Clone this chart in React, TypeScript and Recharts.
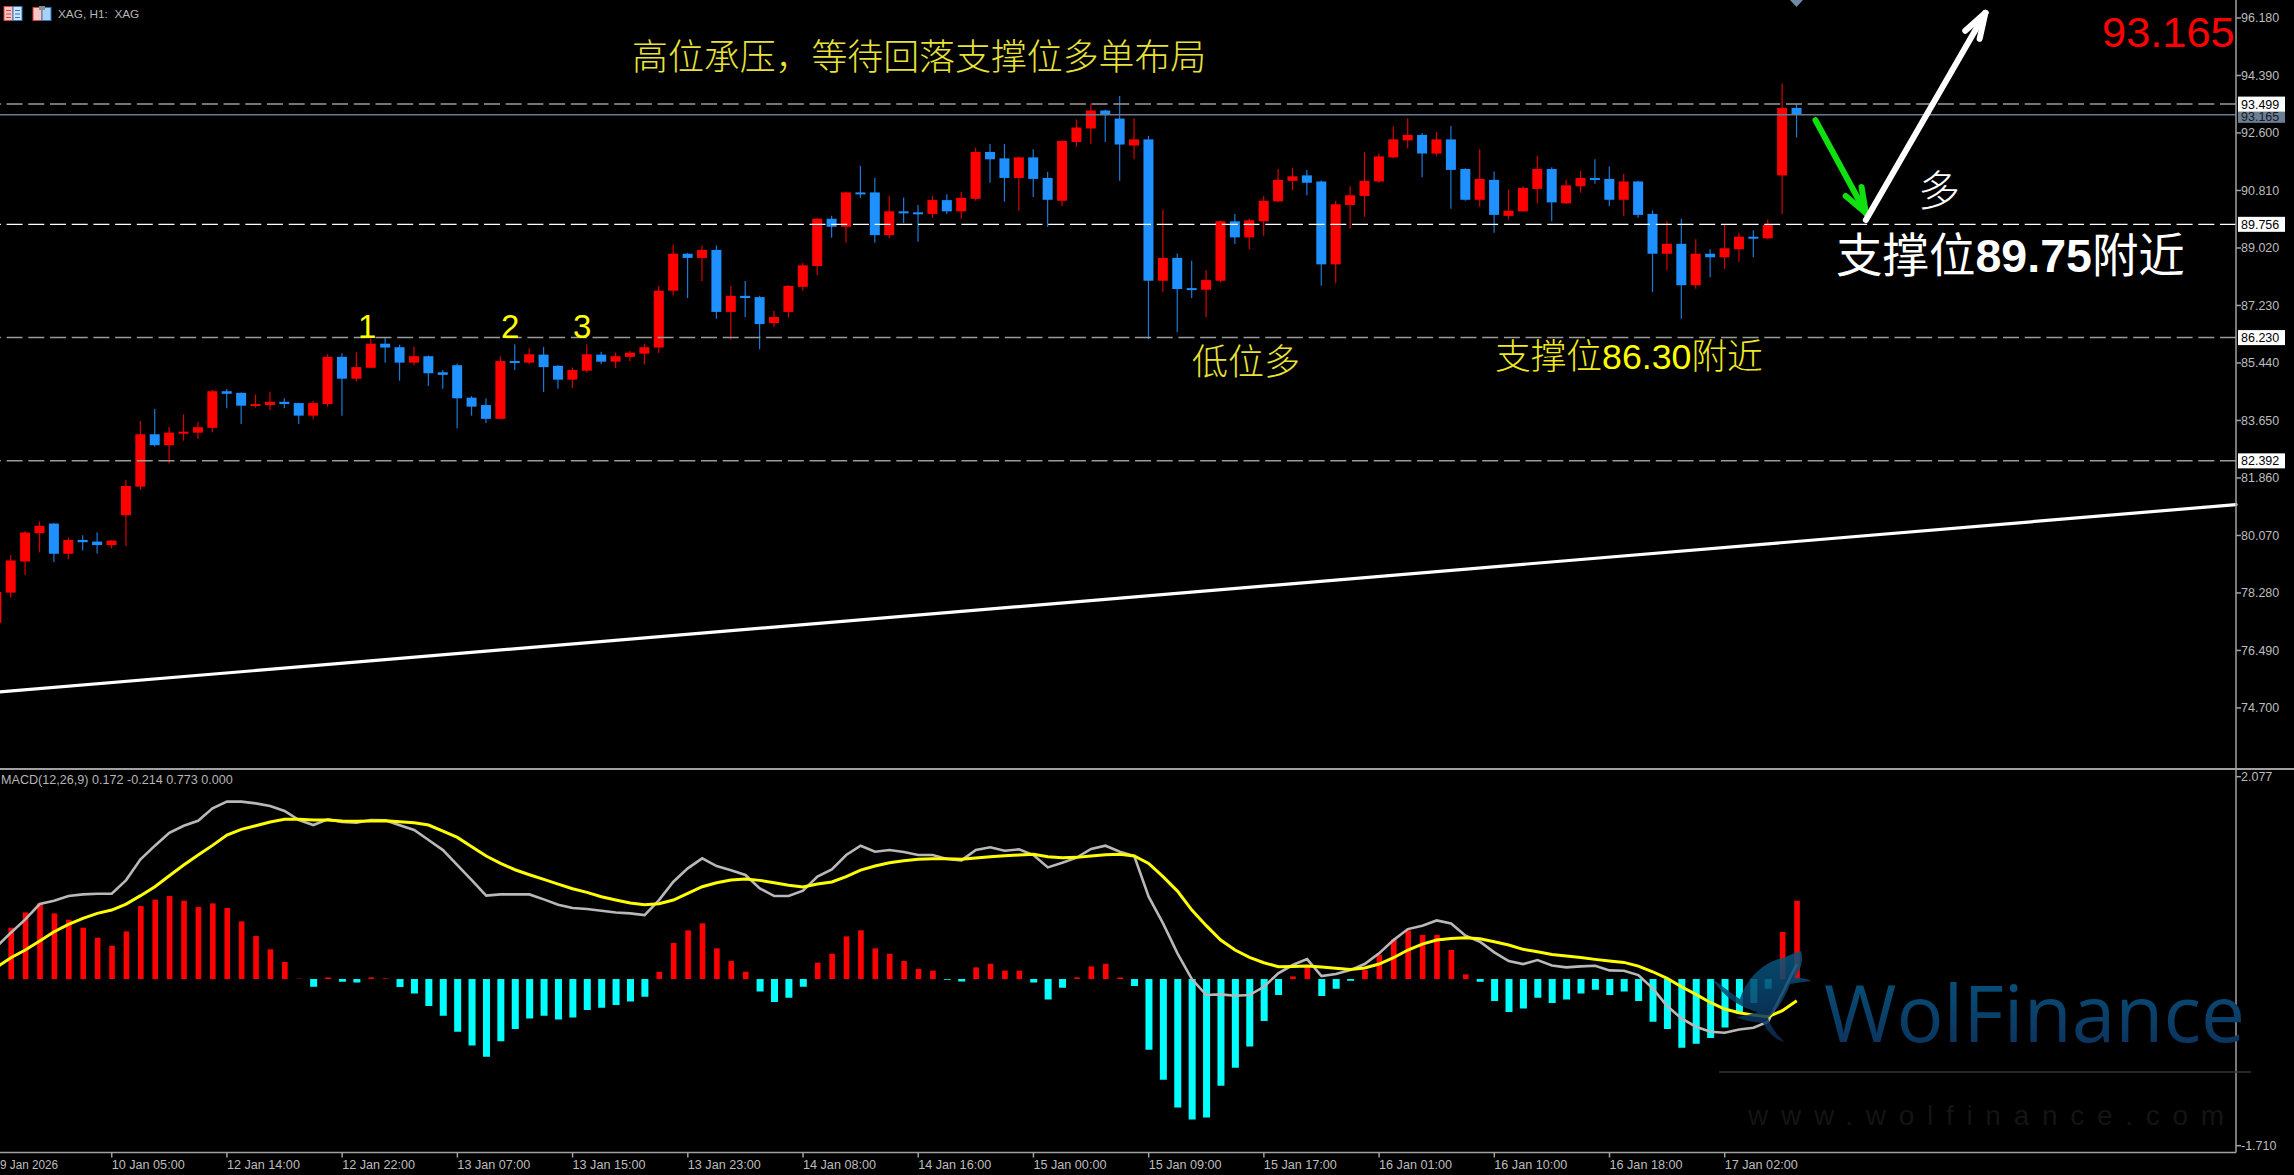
import { Bar, ComposedChart, Line, ReferenceLine, XAxis, YAxis } from "recharts";

// first entry is the bar cut off by the left edge of the window
const opens = [77.35,78.29,79.26,80.14,80.44,79.50,79.93,79.88,79.77,80.70,81.59,83.22,82.88,83.24,83.27,83.42,84.56,84.51,84.11,84.13,84.23,84.19,83.80,84.16,85.63,84.95,85.29,86.04,85.93,85.45,85.65,85.15,85.37,84.36,84.13,83.70,85.50,85.45,85.70,85.35,84.92,85.20,85.70,85.48,85.63,85.73,85.92,87.69,88.84,88.71,88.96,87.03,87.53,87.49,86.68,87.03,87.81,88.46,89.93,89.68,90.75,90.75,89.42,90.16,90.13,90.08,90.51,90.16,90.55,92.01,91.81,91.20,91.84,91.20,90.49,92.32,92.74,93.30,93.05,92.21,92.40,88.00,88.71,87.77,87.72,88.00,89.85,89.35,89.85,90.47,91.11,91.28,91.09,88.51,90.36,90.64,91.09,91.84,92.37,92.54,91.96,92.40,91.48,90.52,91.14,90.02,90.16,90.86,91.48,90.41,90.94,91.20,91.17,90.52,91.09,90.08,88.84,89.15,87.86,88.84,88.73,88.98,89.37,89.32,91.28,93.38];
const highs = [78.40,79.46,80.21,80.50,80.46,80.01,80.08,80.17,79.93,81.80,83.63,84.01,83.45,83.84,83.60,84.60,84.63,84.52,84.46,84.54,84.34,84.20,84.26,85.71,85.74,85.77,86.21,86.24,86.01,85.95,85.67,85.22,85.42,84.41,84.34,85.65,86.02,85.90,85.94,85.38,85.30,86.02,85.79,85.76,85.81,86.03,87.84,89.13,88.87,89.10,89.10,87.84,87.99,87.53,87.06,87.86,88.56,89.96,90.02,90.77,91.57,91.20,90.64,90.59,90.36,90.64,90.69,90.77,92.14,92.26,92.26,91.87,92.09,91.39,92.37,93.02,93.52,93.32,93.75,93.05,92.51,90.21,88.85,88.62,88.33,89.88,90.08,89.93,90.64,91.48,91.51,91.45,91.12,90.49,90.94,92.01,91.96,92.80,93.05,92.60,92.63,92.82,91.50,92.09,91.40,90.84,90.94,91.89,91.53,91.14,91.42,91.78,91.56,91.33,91.11,90.19,89.85,89.93,89.29,88.98,89.74,89.49,89.57,89.91,94.14,93.50];
const lows = [77.20,78.14,78.84,79.54,79.24,79.33,79.60,79.51,79.67,79.74,81.49,82.84,82.31,83.02,83.07,83.28,84.03,83.54,84.05,83.97,84.03,83.54,83.69,84.08,83.80,84.86,85.29,85.45,84.89,85.37,84.72,84.64,83.41,83.80,83.57,83.70,85.22,85.40,84.54,84.64,84.66,85.14,85.40,85.28,85.50,85.39,85.75,87.54,87.46,87.99,86.82,86.16,86.87,85.87,86.57,86.85,87.69,88.18,89.34,89.18,90.58,89.18,89.32,89.80,89.21,89.96,90.08,89.93,90.49,91.05,90.46,90.18,90.61,89.68,90.33,92.17,92.26,92.32,91.11,91.78,86.18,87.64,86.40,87.46,86.87,87.95,89.14,88.98,89.40,90.44,90.82,90.66,87.84,87.92,89.63,89.99,91.05,91.81,92.12,91.22,91.89,90.24,90.49,90.30,89.49,89.91,90.15,90.41,89.85,90.38,90.74,91.02,90.33,90.02,89.96,87.64,88.33,86.82,87.75,88.11,88.37,88.58,88.73,89.29,90.08,92.46];
const closes = [78.31,79.29,80.16,80.37,79.50,79.93,79.86,79.77,79.91,81.61,83.22,82.88,83.27,83.30,83.44,84.56,84.48,84.11,84.16,84.23,84.16,83.80,84.19,85.63,84.95,85.31,86.04,85.92,85.45,85.65,85.12,85.07,84.34,84.08,83.70,85.50,85.46,85.71,85.31,84.92,85.22,85.71,85.48,85.65,85.76,85.93,87.69,88.84,88.71,88.96,87.03,87.53,87.46,86.65,86.87,87.84,88.48,89.93,89.68,90.75,90.70,89.42,90.16,90.11,90.08,90.51,90.16,90.58,92.01,91.78,91.20,91.84,91.17,90.52,92.35,92.77,93.30,93.16,92.24,92.40,88.00,88.71,87.74,87.72,88.02,89.85,89.35,89.88,90.49,91.14,91.25,91.05,88.51,90.38,90.66,91.11,91.87,92.40,92.54,91.96,92.40,91.45,90.52,91.17,90.05,90.18,90.89,91.48,90.44,90.97,91.20,91.14,90.52,91.09,90.05,88.84,89.15,87.86,88.84,88.73,89.01,89.37,89.32,89.74,93.38,93.16];

const histogram = [null,0.527,0.684,0.777,0.674,0.609,0.527,0.424,0.342,0.489,0.749,0.815,0.852,0.804,0.739,0.777,0.729,0.592,0.441,0.305,0.175,0.004,-0.079,0.017,-0.027,-0.034,0.017,0.007,-0.082,-0.147,-0.277,-0.376,-0.541,-0.681,-0.797,-0.637,-0.513,-0.404,-0.376,-0.414,-0.394,-0.318,-0.294,-0.267,-0.229,-0.181,0.075,0.370,0.500,0.572,0.315,0.185,0.075,-0.127,-0.236,-0.192,-0.079,0.168,0.260,0.438,0.500,0.315,0.260,0.185,0.103,0.086,-0.007,-0.024,0.120,0.157,0.086,0.086,-0.034,-0.209,-0.089,0.017,0.130,0.157,0.017,-0.072,-0.726,-1.034,-1.318,-1.441,-1.420,-1.095,-0.910,-0.691,-0.431,-0.164,0.027,0.130,-0.175,-0.099,-0.017,0.092,0.250,0.407,0.500,0.452,0.452,0.298,0.048,-0.027,-0.226,-0.339,-0.301,-0.192,-0.246,-0.209,-0.147,-0.110,-0.164,-0.127,-0.226,-0.438,-0.513,-0.705,-0.664,-0.606,-0.496,-0.356,-0.246,-0.099,0.483,0.804];
const macdLine = [0.332,0.476,0.613,0.770,0.804,0.852,0.869,0.876,0.876,1.016,1.229,1.369,1.502,1.574,1.625,1.752,1.821,1.821,1.803,1.776,1.725,1.632,1.581,1.639,1.612,1.605,1.632,1.629,1.578,1.530,1.427,1.324,1.170,1.016,0.856,0.869,0.869,0.869,0.818,0.763,0.729,0.719,0.702,0.684,0.674,0.657,0.811,0.999,1.136,1.239,1.160,1.116,1.068,0.931,0.852,0.852,0.907,1.051,1.126,1.273,1.369,1.307,1.324,1.304,1.273,1.273,1.232,1.218,1.324,1.352,1.317,1.331,1.273,1.146,1.194,1.246,1.335,1.369,1.307,1.263,0.845,0.571,0.264,0,-0.164,-0.157,-0.171,-0.164,-0.079,0.058,0.144,0.205,0.031,0.051,0.092,0.154,0.264,0.400,0.513,0.548,0.602,0.571,0.445,0.383,0.274,0.185,0.154,0.195,0.140,0.120,0.130,0.137,0.089,0.086,0.041,-0.096,-0.277,-0.404,-0.489,-0.541,-0.551,-0.517,-0.500,-0.438,-0.147,0.154];
const signalLine = [0.120,0.219,0.298,0.390,0.486,0.561,0.623,0.674,0.708,0.770,0.856,0.948,1.061,1.170,1.273,1.372,1.478,1.537,1.574,1.612,1.639,1.639,1.632,1.632,1.622,1.619,1.622,1.626,1.615,1.605,1.581,1.519,1.454,1.359,1.263,1.187,1.122,1.071,1.023,0.975,0.927,0.890,0.845,0.811,0.780,0.763,0.773,0.811,0.879,0.948,0.989,1.016,1.027,1.013,0.989,0.962,0.945,0.975,0.996,1.051,1.119,1.160,1.194,1.215,1.229,1.235,1.235,1.229,1.242,1.256,1.266,1.273,1.280,1.256,1.246,1.249,1.263,1.276,1.280,1.263,1.187,1.051,0.903,0.708,0.548,0.400,0.298,0.222,0.168,0.127,0.130,0.133,0.123,0.110,0.099,0.113,0.154,0.219,0.298,0.359,0.400,0.417,0.424,0.414,0.383,0.349,0.305,0.281,0.253,0.236,0.222,0.202,0.185,0.171,0.133,0.075,0.007,-0.079,-0.157,-0.240,-0.308,-0.346,-0.370,-0.387,-0.325,-0.222];

const priceTicks = [96.18,94.39,92.6,90.81,89.02,87.23,85.44,83.65,81.86,80.07,78.28,76.49,74.7];
const macdTicks = [2.077,-1.71];
const timeTickBars = [-1,7,15,23,31,39,47,55,63,71,79,87,95,103,111,119];
const timeTickLabels = ["9 Jan 2026","10 Jan 05:00","12 Jan 14:00","12 Jan 22:00","13 Jan 07:00","13 Jan 15:00","13 Jan 23:00","14 Jan 08:00","14 Jan 16:00","15 Jan 00:00","15 Jan 09:00","15 Jan 17:00","16 Jan 01:00","16 Jan 10:00","16 Jan 18:00","17 Jan 02:00"];

// trend line and drawn arrows, as [bar, price]
const trendLine = [[-1.5,75.17],[154.5,81.03]];
const greenArrow = [[125.3,93.0],[128.8,90.11]];
const greenArrowHead = [[128.5,90.92],[127.4,90.64]];
const whiteArrow = [[128.8,89.89],[137.1,96.34]];
const whiteArrowHead = [[135.7,95.78],[136.7,95.53]];

const rows = Array.from({ length: 156 }, (_, k) => {
  const hasBar = k < opens.length;
  return {
    bar: k - 1,
    range: hasBar ? [lows[k], highs[k]] : null,
    open: opens[k],
    close: closes[k],
    high: highs[k],
    low: lows[k],
    up: hasBar && histogram[k] != null && histogram[k] > 0 ? histogram[k] : null,
    down: hasBar && histogram[k] != null && histogram[k] <= 0 ? histogram[k] : null,
    macd: hasBar ? macdLine[k] : null,
    signal: hasBar ? signalLine[k] : null,
  };
});

const AXIS = "#a0a0a0";
const TICK = "#bdbdbd";
const FONT = '"Liberation Sans", sans-serif';
const CJK = '"Liberation Sans", "Noto Sans CJK SC", sans-serif';
const MARGIN_LEFT = -10.7;
const AXIS_WIDTH = 58;

function Candle(props: any) {
  const { x, y, width, height, payload } = props;
  if (!payload.range) return null;
  const k = Math.abs(height) / (payload.high - payload.low);
  const top = y + (payload.high - Math.max(payload.open, payload.close)) * k;
  const bottom = y + (payload.high - Math.min(payload.open, payload.close)) * k;
  const color = payload.close >= payload.open ? "#ff0000" : "#1e90ff";
  return (
    <g>
      <line x1={x + width / 2} x2={x + width / 2} y1={y} y2={y + Math.abs(height)} stroke={color} strokeWidth={1.2} opacity={0.85} />
      <rect x={x} y={top} width={width} height={Math.max(bottom - top, 2)} fill={color} />
    </g>
  );
}

// red histogram bars are a little narrower than the cyan ones
function RedBar(props: any) {
  const { x, y, width, height } = props;
  if (!height) return null;
  return <rect x={x + 0.7} y={y} width={width - 1.4} height={Math.abs(height)} fill="#ff0000" />;
}

function PriceTag(props: any) {
  const { viewBox, value, fill, color, dy = 0, h = 15 } = props;
  const right = viewBox.x + viewBox.width;
  const cy = viewBox.y + dy;
  return (
    <g>
      <rect x={right + 2} y={cy - h / 2} width={47} height={h} fill={fill} />
      <text x={right + 5} y={cy + 4.5} fontSize={12.5} fontFamily={FONT} fill={color}>{value}</text>
    </g>
  );
}

function TimeTick(props: any) {
  const { x, y, payload } = props;
  const label = timeTickLabels[timeTickBars.indexOf(payload.value)];
  const first = payload.value === timeTickBars[0];
  return (
    <text x={Math.max(x, 0)} y={y + 11} fontSize={12.5} fontFamily={FONT} fill={TICK} textLength={first ? 58 : 73} lengthAdjust="spacingAndGlyphs">
      {label}
    </text>
  );
}

function Note({ x, y, size, color, children, weight = 300 }: any) {
  return (
    <div
      style={{
        position: "absolute",
        left: x,
        top: y,
        transform: "translateY(-50%)",
        fontFamily: CJK,
        fontSize: size,
        fontWeight: weight,
        color,
        lineHeight: 1,
        whiteSpace: "nowrap",
      }}
    >
      {children}
    </div>
  );
}

function Segment({ from, to, stroke, width }: any) {
  return (
    <ReferenceLine
      xAxisId="pos"
      ifOverflow="visible"
      segment={[{ x: from[0], y: from[1] }, { x: to[0], y: to[1] }]}
      stroke={stroke}
      strokeWidth={width}
      strokeLinecap="round"
    />
  );
}

function Watermark() {
  return (
    <svg width={2294} height={1175} style={{ position: "absolute", left: 0, top: 0 }}>
      <defs>
        <linearGradient id="wf" x1="0" x2="0" y1="0" y2="1">
          <stop offset="0" stopColor="#06587f" />
          <stop offset="1" stopColor="#0d2b57" />
        </linearGradient>
      </defs>
      <path
        d="M1713 980 C1722 985 1733 995 1740 999 C1746 980 1762 962 1783 958 C1790 955 1797 952 1801 951 C1804 962 1800 970 1795 977 C1802 978 1808 979 1811 981 C1803 982 1796 983 1790 984 C1785 998 1776 1012 1768 1018 C1772 1030 1780 1038 1785 1042 C1775 1040 1768 1032 1763 1023 C1752 1022 1742 1020 1736 1017 C1746 1016 1754 1013 1758 1012 C1740 1008 1722 995 1713 980 Z"
        fill="url(#wf)"
        opacity={0.85}
      />
      <text x={1824} y={1042} fontFamily='"Open Sans", sans-serif' fontWeight={400} fontSize={78} fill="url(#wf)" textLength={421} lengthAdjust="spacingAndGlyphs">
        WolFinance
      </text>
      <line x1={1719} x2={2251} y1={1072} y2={1072} stroke="#333333" strokeWidth={1.5} />
      <text x={1748} y={1125} fontFamily={FONT} fontSize={28} fill="#141414" textLength={476}>
        www.wolfinance.com
      </text>
    </svg>
  );
}

function ToolbarIcons() {
  return (
    <svg width={60} height={26} style={{ position: "absolute", left: 0, top: 0 }}>
      <rect x={4} y={6.5} width={9} height={14} fill="#f6c4c4" stroke="#d84040" />
      <rect x={13} y={6.5} width={9} height={14} fill="#cfe4f7" stroke="#2a76c0" />
      <path d="M6 10.5h5M6 14h5M6 17.5h5" stroke="#d84040" />
      <path d="M15 10.5h5M15 14h5M15 17.5h5" stroke="#2a76c0" />
      <rect x={33} y={7.5} width={9} height={13} fill="#f6c4c4" stroke="#d84040" />
      <rect x={42} y={7.5} width={9} height={13} fill="#a8d2f5" stroke="#2a76c0" />
      <rect x={39} y={6} width={6} height={4} fill="#8a8a8a" />
    </svg>
  );
}

export default function App() {
  return (
    <div style={{ position: "absolute", left: 0, top: 0, width: 2294, height: 1175, background: "#000", overflow: "hidden" }}>
      <div style={{ position: "absolute", left: 0, top: 0 }}>
        <ComposedChart width={2294} height={768} data={rows} margin={{ top: 0, right: 0, bottom: 0, left: MARGIN_LEFT }}>
          <XAxis dataKey="bar" hide />
          <XAxis xAxisId="pos" dataKey="bar" type="number" domain={[-1.5, 154.5]} allowDataOverflow hide />
          <YAxis
            orientation="right"
            width={AXIS_WIDTH}
            domain={[72.83, 96.74]}
            ticks={priceTicks}
            interval={0}
            allowDataOverflow
            tickFormatter={(v) => v.toFixed(3)}
            tick={{ fontSize: 12.5, fill: TICK, fontFamily: FONT }}
            tickSize={5}
            tickMargin={0}
            stroke={AXIS}
            strokeWidth={1.5}
          />
          <ReferenceLine y={93.165} stroke="#6b7a8c" strokeWidth={1.5} ifOverflow="visible" label={<PriceTag value="93.165" fill="#6b7f95" color="#1a1a1a" dy={2} h={12} />} />
          <Bar dataKey="range" barSize={10} shape={<Candle />} isAnimationActive={false} />
          <ReferenceLine y={93.499} stroke="#9a9a9a" strokeWidth={1.5} strokeDasharray="16 5.7" ifOverflow="visible" label={<PriceTag value="93.499" fill="#ffffff" color="#000" />} />
          <ReferenceLine y={89.756} stroke="#ffffff" strokeWidth={1.2} strokeDasharray="16 5.7" ifOverflow="visible" label={<PriceTag value="89.756" fill="#ffffff" color="#000" />} />
          <ReferenceLine y={86.23} stroke="#9a9a9a" strokeWidth={1.5} strokeDasharray="16 5.7" ifOverflow="visible" label={<PriceTag value="86.230" fill="#ffffff" color="#000" />} />
          <ReferenceLine y={82.392} stroke="#9a9a9a" strokeWidth={1.5} strokeDasharray="16 5.7" ifOverflow="visible" label={<PriceTag value="82.392" fill="#ffffff" color="#000" />} />
          {Segment({ from: trendLine[0], to: trendLine[1], stroke: "#ffffff", width: 3.2 })}
          {Segment({ from: greenArrow[0], to: greenArrow[1], stroke: "#10e010", width: 6 })}
          {Segment({ from: greenArrowHead[0], to: greenArrow[1], stroke: "#10e010", width: 6 })}
          {Segment({ from: greenArrowHead[1], to: greenArrow[1], stroke: "#10e010", width: 6 })}
          {Segment({ from: whiteArrow[0], to: whiteArrow[1], stroke: "#ffffff", width: 6 })}
          {Segment({ from: whiteArrowHead[0], to: whiteArrow[1], stroke: "#ffffff", width: 6 })}
          {Segment({ from: whiteArrowHead[1], to: whiteArrow[1], stroke: "#ffffff", width: 6 })}
        </ComposedChart>
      </div>

      <div style={{ position: "absolute", left: 0, top: 767.5, width: 2294, height: 2, background: AXIS }} />

      <div style={{ position: "absolute", left: 0, top: 769 }}>
        <ComposedChart width={2294} height={406} data={rows} margin={{ top: 0, right: 0, bottom: 0, left: MARGIN_LEFT }}>
          <XAxis
            dataKey="bar"
            ticks={timeTickBars}
            interval={0}
            height={22.5}
            tick={<TimeTick />}
            tickSize={5}
            tickMargin={0}
            stroke={AXIS}
            strokeWidth={1.5}
          />
          <YAxis
            orientation="right"
            width={AXIS_WIDTH}
            domain={[-1.78, 2.156]}
            ticks={macdTicks}
            interval={0}
            allowDataOverflow
            tickFormatter={(v) => v.toFixed(3)}
            tick={{ fontSize: 12.5, fill: TICK, fontFamily: FONT }}
            tickSize={5}
            tickMargin={0}
            stroke={AXIS}
            strokeWidth={1.5}
          />
          <Bar dataKey="up" stackId="hist" barSize={7} shape={<RedBar />} fill="#ff0000" isAnimationActive={false} />
          <Bar dataKey="down" stackId="hist" barSize={7} fill="#00ffff" isAnimationActive={false} />
          <Line dataKey="macd" stroke="#b8b8b8" strokeWidth={2.6} dot={false} activeDot={false} isAnimationActive={false} />
          <Line dataKey="signal" stroke="#ffff00" strokeWidth={3} dot={false} activeDot={false} isAnimationActive={false} />
        </ComposedChart>
      </div>

      <Watermark />
      <ToolbarIcons />

      <div style={{ position: "absolute", left: 58, top: 14, transform: "translateY(-50%)", fontFamily: FONT, fontSize: 11.8, color: "#b5b5b5", whiteSpace: "pre" }}>XAG, H1:  XAG</div>
      <div style={{ position: "absolute", left: 1, top: 780, transform: "translateY(-50%)", fontFamily: FONT, fontSize: 12.6, color: "#b5b5b5", whiteSpace: "pre" }}>MACD(12,26,9) 0.172 -0.214 0.773 0.000</div>

      <svg width={16} height={10} style={{ position: "absolute", left: 1788, top: 0 }}>
        <path d="M2 0H15L8.5 7Z" fill="#6f8aa5" />
      </svg>

      <Note x={632} y={59} size={35.9} color="#e8e23a">高位承压，等待回落支撑位多单布局</Note>
      <Note x={358} y={326} size={33} color="#ffff00" weight={400}>1</Note>
      <Note x={501} y={326} size={33} color="#ffff00" weight={400}>2</Note>
      <Note x={573} y={326} size={33} color="#ffff00" weight={400}>3</Note>
      <Note x={1192} y={363} size={36} color="#e8e23a">低位多</Note>
      <Note x={1495} y={358} size={35.7} color="#f0ea20">支撑位<b style={{ fontWeight: 400, color: "#ffff00" }}>86.30</b>附近</Note>
      <Note x={1918} y={192} size={42} color="#ffffff">多</Note>
      <Note x={1836} y={256} size={46.5} color="#ffffff" weight={400}>支撑位<b style={{ fontWeight: 700 }}>89.75</b>附近</Note>
      <Note x={2102} y={33} size={43.4} color="#ff0000" weight={400}>93.165</Note>
    </div>
  );
}
